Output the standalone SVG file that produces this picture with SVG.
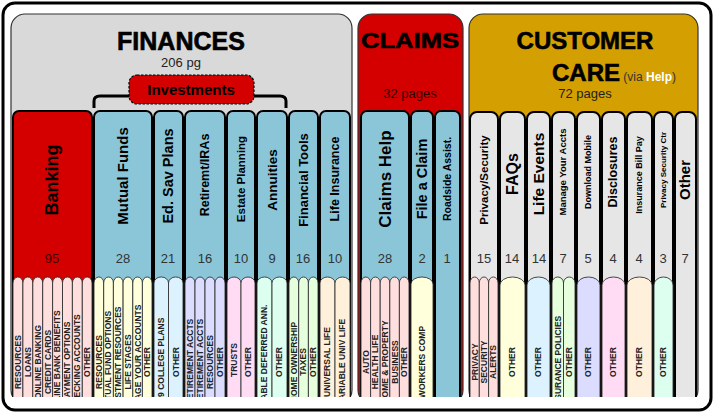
<svg xmlns="http://www.w3.org/2000/svg" width="716" height="415" viewBox="0 0 716 415">
<style>
.tab{fill:#8ac6d8;stroke:#000;stroke-width:2}
.h{font-family:"Liberation Sans",Arial,sans-serif;font-weight:bold;fill:#000;text-anchor:middle}
.n{font-family:"Liberation Sans",Arial,sans-serif;font-size:13px;fill:#333;text-anchor:middle}
.s{stroke:#333;stroke-width:0.9}
.t{font-family:"Liberation Sans",Arial,sans-serif;font-weight:bold;font-size:8.5px;fill:#222;text-anchor:middle}
.pk{fill:#ffdede}.yl{fill:#ffffdc}.bl{fill:#dcf2ff}.lv{fill:#dcdcff}.mg{fill:#ffdcf3}.mt{fill:#dcfff0}.gr{fill:#e6ffdc}.pe{fill:#fff0dc}
</style>
<defs><clipPath id="c"><rect x="0" y="0" width="716" height="397"/></clipPath></defs>
<rect x="3" y="3" width="708" height="407" rx="12" fill="#fff" stroke="#000" stroke-width="3"/>
<g id="panels">
<rect x="11" y="14" width="341" height="390" rx="14" fill="#d9d9d9" stroke="#333" stroke-width="1.2" clip-path="url(#c)"/>
<rect x="358" y="14" width="105" height="390" rx="14" fill="#d40000" stroke="#333" stroke-width="1.2" clip-path="url(#c)"/>
<rect x="469" y="14" width="229" height="390" rx="14" fill="#d49f00" stroke="#333" stroke-width="1.2" clip-path="url(#c)"/>
<text class="h" x="181" y="50" font-size="25" stroke="#000" stroke-width="0.6">FINANCES</text>
<text class="n" x="181" y="67" style="fill:#222">206 pg</text>
<text class="h" x="410" y="48" font-size="22" textLength="98" lengthAdjust="spacingAndGlyphs" stroke="#000" stroke-width="0.6">CLAIMS</text>
<text class="n" x="410" y="98" style="fill:#300">32 pages</text>
<text class="h" x="585" y="49" font-size="24" stroke="#000" stroke-width="0.6">CUSTOMER</text>
<text x="552" y="81" font-family="Liberation Sans,Arial,sans-serif" font-size="24" font-weight="bold" stroke="#000" stroke-width="0.6">CARE<tspan font-size="12" font-weight="normal" fill="#333" stroke="none"> (via </tspan><tspan font-size="12" fill="#fff" stroke="none">Help</tspan><tspan font-size="12" font-weight="normal" fill="#333" stroke="none">)</tspan></text>
<text class="n" x="585" y="98" style="fill:#222">72 pages</text>
</g>
<g id="connectors">
<path d="M94,108 V101 Q94,96 100,96 H129 M254,96 H280 Q286,96 286,101 V108" fill="none" stroke="#000" stroke-width="3"/>
</g>
<g id="investments">
<rect x="129" y="75" width="125" height="29" rx="8" fill="#d40000" stroke="#000" stroke-width="1.2" stroke-dasharray="2.5,1.5"/>
<text class="h" x="191" y="95" font-size="15">Investments</text>
</g>
<g id="tabs" clip-path="url(#c)">
<rect x="13" y="111" width="79" height="300" rx="6" fill="#d40000" stroke="#000" stroke-width="2"/>
<rect class="tab" x="94" y="111" width="58" height="300" rx="6"/>
<rect class="tab" x="154" y="111" width="29" height="300" rx="6"/>
<rect class="tab" x="185" y="111" width="40" height="300" rx="6"/>
<rect class="tab" x="227" y="111" width="28" height="300" rx="6"/>
<rect class="tab" x="257" y="111" width="30" height="300" rx="6"/>
<rect class="tab" x="289" y="111" width="29" height="300" rx="6"/>
<rect class="tab" x="320" y="111" width="30" height="300" rx="6"/>
<rect class="tab" x="361" y="111" width="48" height="300" rx="6"/>
<rect class="tab" x="411" y="111" width="22" height="300" rx="6"/>
<rect class="tab" x="435" y="111" width="25" height="300" rx="6"/>
<g fill="#e6e6e6" stroke="#000" stroke-width="2">
<rect x="470" y="112" width="28" height="300" rx="7"/>
<rect x="500" y="112" width="25" height="300" rx="7"/>
<rect x="527" y="112" width="23" height="300" rx="7"/>
<rect x="552" y="112" width="23" height="300" rx="7"/>
<rect x="577" y="112" width="23" height="300" rx="7"/>
<rect x="602" y="112" width="23" height="300" rx="7"/>
<rect x="627" y="112" width="25" height="300" rx="7"/>
<rect x="654" y="112" width="19" height="300" rx="7"/>
<rect x="675" y="112" width="21" height="300" rx="7"/>
</g>
</g>
<g id="tablabels" class="h">
<text transform="translate(52,180) rotate(-90)" dy="0.35em" font-size="18">Banking</text>
<text transform="translate(123,176) rotate(-90)" dy="0.35em" font-size="15">Mutual Funds</text>
<text transform="translate(168,176) rotate(-90)" dy="0.35em" font-size="14.5">Ed. Sav Plans</text>
<text transform="translate(205,175) rotate(-90)" dy="0.35em" font-size="12.5">Retiremt/IRAs</text>
<text transform="translate(241,179) rotate(-90)" dy="0.35em" font-size="11.5">Estate Planning</text>
<text transform="translate(272,180) rotate(-90)" dy="0.35em" font-size="13.5">Annuities</text>
<text transform="translate(303,180) rotate(-90)" dy="0.35em" font-size="13">Financial Tools</text>
<text transform="translate(335,179) rotate(-90)" dy="0.35em" font-size="12.5">Life Insurance</text>
<text transform="translate(385,179) rotate(-90)" dy="0.35em" font-size="17">Claims Help</text>
<text transform="translate(422,179) rotate(-90)" dy="0.35em" font-size="14.5">File a Claim</text>
<text transform="translate(447,179) rotate(-90)" dy="0.35em" font-size="10.5">Roadside Assist.</text>
<text transform="translate(484,180) rotate(-90)" dy="0.35em" font-size="11.5">Privacy/Security</text>
<text transform="translate(512,174) rotate(-90)" dy="0.35em" font-size="16">FAQs</text>
<text transform="translate(539,174) rotate(-90)" dy="0.35em" font-size="15.5">Life Events</text>
<text transform="translate(563,172) rotate(-90)" dy="0.35em" font-size="9.5">Manage Your Accts</text>
<text transform="translate(588,172) rotate(-90)" dy="0.35em" font-size="9">Download Mobile</text>
<text transform="translate(613,172) rotate(-90)" dy="0.35em" font-size="12.5">Disclosures</text>
<text transform="translate(639,175) rotate(-90)" dy="0.35em" font-size="9">Insurance Bill Pay</text>
<text transform="translate(663,170) rotate(-90)" dy="0.35em" font-size="8">Privacy Security Ctr</text>
<text transform="translate(685,180) rotate(-90)" dy="0.35em" font-size="15">Other</text>
</g>
<g id="counts" class="n">
<text x="52" y="263" style="fill:#400">95</text><text x="123" y="263">28</text><text x="168" y="263">21</text><text x="205" y="263">16</text><text x="241" y="263">10</text><text x="272" y="263">9</text><text x="303" y="263">16</text><text x="335" y="263">10</text>
<text x="385" y="263">28</text><text x="422" y="263">2</text><text x="447" y="263">1</text>
<text x="484" y="263">15</text><text x="512" y="263">14</text><text x="539" y="263">14</text><text x="563" y="263">7</text><text x="588" y="263">5</text><text x="613" y="263">4</text><text x="639" y="263">4</text><text x="663" y="263">3</text><text x="685" y="263">7</text>
</g>
<g id="subcolumns" clip-path="url(#c)">
<g class="s pk">
<rect x="13" y="277" width="9.9" height="140" rx="4.9" ry="6"/><rect x="22.9" y="277" width="9.9" height="140" rx="4.9" ry="6"/><rect x="32.8" y="277" width="9.9" height="140" rx="4.9" ry="6"/><rect x="42.7" y="277" width="9.9" height="140" rx="4.9" ry="6"/><rect x="52.6" y="277" width="9.9" height="140" rx="4.9" ry="6"/><rect x="62.5" y="277" width="9.9" height="140" rx="4.9" ry="6"/><rect x="72.4" y="277" width="9.9" height="140" rx="4.9" ry="6"/><rect x="82.3" y="277" width="9.7" height="140" rx="4.8" ry="6"/>
<rect x="361" y="277" width="9.6" height="140" rx="4.8" ry="6"/><rect x="370.6" y="277" width="9.6" height="140" rx="4.8" ry="6"/><rect x="380.2" y="277" width="9.6" height="140" rx="4.8" ry="6"/><rect x="389.8" y="277" width="9.6" height="140" rx="4.8" ry="6"/><rect x="399.4" y="277" width="9.6" height="140" rx="4.8" ry="6"/>
<rect x="470" y="277" width="9.3" height="140" rx="4.6" ry="6"/><rect x="479.3" y="277" width="9.3" height="140" rx="4.6" ry="6"/><rect x="488.6" y="277" width="9.4" height="140" rx="4.6" ry="6"/>
</g>
<g class="s yl">
<rect x="94" y="277" width="9.7" height="140" rx="4.8" ry="6"/><rect x="103.7" y="277" width="9.7" height="140" rx="4.8" ry="6"/><rect x="113.4" y="277" width="9.7" height="140" rx="4.8" ry="6"/><rect x="123.1" y="277" width="9.7" height="140" rx="4.8" ry="6"/><rect x="132.8" y="277" width="9.6" height="140" rx="4.8" ry="6"/><rect x="142.4" y="277" width="9.6" height="140" rx="4.8" ry="6"/>
<rect x="411" y="277" width="22" height="140" rx="11" ry="7"/>
<rect x="500" y="277" width="25" height="140" rx="12.5" ry="8"/>
</g>
<g class="s bl">
<rect x="154" y="277" width="14.5" height="140" rx="7" ry="6"/><rect x="168.5" y="277" width="14.5" height="140" rx="7" ry="6"/>
<rect x="527" y="277" width="23" height="140" rx="11.5" ry="8"/>
</g>
<g class="s lv">
<rect x="185" y="277" width="10" height="140" rx="5" ry="6"/><rect x="195" y="277" width="10" height="140" rx="5" ry="6"/><rect x="205" y="277" width="10" height="140" rx="5" ry="6"/><rect x="215" y="277" width="10" height="140" rx="5" ry="6"/>
<rect x="577" y="277" width="23" height="140" rx="11.5" ry="8"/>
</g>
<g class="s mg">
<rect x="227" y="277" width="14" height="140" rx="7" ry="6"/><rect x="241" y="277" width="14" height="140" rx="7" ry="6"/>
<rect x="602" y="277" width="23" height="140" rx="11.5" ry="8"/>
</g>
<g class="s mt">
<rect x="257" y="277" width="15" height="140" rx="7.5" ry="6"/><rect x="272" y="277" width="15" height="140" rx="7.5" ry="6"/>
<rect x="654" y="277" width="19" height="140" rx="9.5" ry="8"/>
</g>
<g class="s gr">
<rect x="289" y="277" width="9.7" height="140" rx="4.8" ry="6"/><rect x="298.7" y="277" width="9.7" height="140" rx="4.8" ry="6"/><rect x="308.4" y="277" width="9.6" height="140" rx="4.8" ry="6"/>
<rect x="552" y="277" width="11.5" height="140" rx="5.7" ry="6"/><rect x="563.5" y="277" width="11.5" height="140" rx="5.7" ry="6"/>
</g>
<g class="s pe">
<rect x="320" y="277" width="15" height="140" rx="7.5" ry="6"/><rect x="335" y="277" width="15" height="140" rx="7.5" ry="6"/>
<rect x="627" y="277" width="25" height="140" rx="12.5" ry="8"/>
</g>
<g class="t">
<text transform="translate(18,362) rotate(-90)" dy="0.35em">RESOURCES</text>
<text transform="translate(27.8,362) rotate(-90)" dy="0.35em">LOANS</text>
<text transform="translate(37.7,362) rotate(-90)" dy="0.35em">ONLINE BANKING</text>
<text transform="translate(47.6,362) rotate(-90)" dy="0.35em">CREDIT CARDS</text>
<text transform="translate(57.5,362) rotate(-90)" dy="0.35em">ONLINE BANK BENEFITS</text>
<text transform="translate(67.4,362) rotate(-90)" dy="0.35em">PAYMENT OPTIONS</text>
<text transform="translate(77.3,362) rotate(-90)" dy="0.35em">CHECKING ACCOUNTS</text>
<text transform="translate(87.1,362) rotate(-90)" dy="0.35em">OTHER</text>
<text transform="translate(98.8,362) rotate(-90)" dy="0.35em">RESOURCES</text>
<text transform="translate(108.5,362) rotate(-90)" dy="0.35em">MUTUAL FUND OPTIONS</text>
<text transform="translate(118.2,362) rotate(-90)" dy="0.35em">INVESTMENT RESOURCES</text>
<text transform="translate(128,362) rotate(-90)" dy="0.35em">LIFE STAGES</text>
<text transform="translate(137.6,362) rotate(-90)" dy="0.35em">MANAGE YOUR ACCOUNTS</text>
<text transform="translate(147.2,362) rotate(-90)" dy="0.35em">OTHER</text>
<text transform="translate(161.2,362) rotate(-90)" dy="0.35em">529 COLLEGE PLANS</text>
<text transform="translate(175.7,362) rotate(-90)" dy="0.35em">OTHER</text>
<text transform="translate(190,362) rotate(-90)" dy="0.35em">RETIREMENT ACCTS</text>
<text transform="translate(200,362) rotate(-90)" dy="0.35em">RETIREMENT ACCTS</text>
<text transform="translate(210,362) rotate(-90)" dy="0.35em">RESOURCES</text>
<text transform="translate(220,362) rotate(-90)" dy="0.35em">OTHER</text>
<text transform="translate(234,360) rotate(-90)" dy="0.35em">TRUSTS</text>
<text transform="translate(248,362) rotate(-90)" dy="0.35em">OTHER</text>
<text transform="translate(264.5,362) rotate(-90)" dy="0.35em">VARIABLE DEFERRED ANN.</text>
<text transform="translate(279.5,362) rotate(-90)" dy="0.35em">OTHER</text>
<text transform="translate(293.8,362) rotate(-90)" dy="0.35em">HOME OWNERSHIP</text>
<text transform="translate(303.5,362) rotate(-90)" dy="0.35em">TAXES</text>
<text transform="translate(313.2,362) rotate(-90)" dy="0.35em">OTHER</text>
<text transform="translate(327.5,362) rotate(-90)" dy="0.35em">UNIVERSAL LIFE</text>
<text transform="translate(342.5,362) rotate(-90)" dy="0.35em">VARIABLE UNIV LIFE</text>
<text transform="translate(365.8,362) rotate(-90)" dy="0.35em">AUTO</text>
<text transform="translate(375.4,362) rotate(-90)" dy="0.35em">HEALTH LIFE</text>
<text transform="translate(385,362) rotate(-90)" dy="0.35em">HOME &amp; PROPERTY</text>
<text transform="translate(394.6,362) rotate(-90)" dy="0.35em">BUSINESS</text>
<text transform="translate(404.2,362) rotate(-90)" dy="0.35em">OTHER</text>
<text transform="translate(422,362) rotate(-90)" dy="0.35em">WORKERS COMP</text>
<text transform="translate(474.6,362) rotate(-90)" dy="0.35em">PRIVACY</text>
<text transform="translate(484,362) rotate(-90)" dy="0.35em">SECURITY</text>
<text transform="translate(493.3,362) rotate(-90)" dy="0.35em">ALERTS</text>
<text transform="translate(512.5,362) rotate(-90)" dy="0.35em">OTHER</text>
<text transform="translate(538.5,362) rotate(-90)" dy="0.35em">OTHER</text>
<text transform="translate(557.8,362) rotate(-90)" dy="0.35em">INSURANCE POLICIES</text>
<text transform="translate(569.3,362) rotate(-90)" dy="0.35em">OTHER</text>
<text transform="translate(588.5,362) rotate(-90)" dy="0.35em">OTHER</text>
<text transform="translate(613.5,362) rotate(-90)" dy="0.35em">OTHER</text>
<text transform="translate(639.5,362) rotate(-90)" dy="0.35em">OTHER</text>
<text transform="translate(663.5,362) rotate(-90)" dy="0.35em">OTHER</text>
</g>
</g>
</svg>
